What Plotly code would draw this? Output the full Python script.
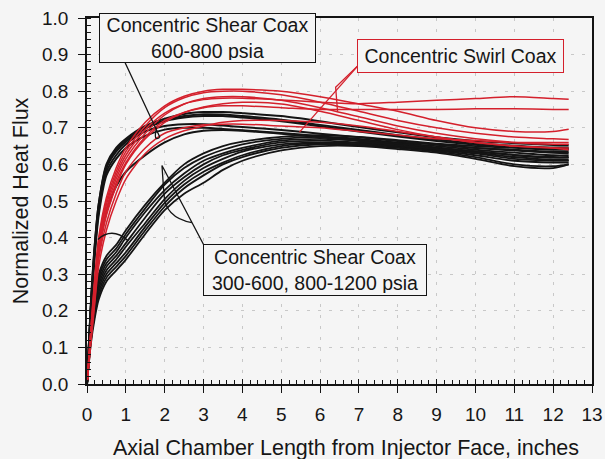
import plotly.graph_objects as go

# Axial stations (inches from injector face)
axial_in = [0, 0.1, 0.2, 0.3, 0.5, 0.75, 1, 1.5, 2, 2.5, 3, 3.5, 4, 5, 6, 7, 8, 9, 10, 11, 12, 12.4]

# Concentric shear coax, 600-800 psia (fast rise)
shear_mid_1 = [0, 0.22, 0.38, 0.49, 0.60, 0.645, 0.67, 0.705, 0.725, 0.738, 0.743, 0.743, 0.74, 0.732, 0.718, 0.702, 0.688, 0.674, 0.664, 0.658, 0.653, 0.652]
shear_mid_2 = [0, 0.21, 0.37, 0.48, 0.59, 0.635, 0.662, 0.698, 0.718, 0.728, 0.732, 0.732, 0.728, 0.718, 0.704, 0.69, 0.676, 0.664, 0.654, 0.648, 0.643, 0.642]
shear_mid_3 = [0, 0.21, 0.36, 0.47, 0.58, 0.625, 0.655, 0.69, 0.705, 0.71, 0.71, 0.706, 0.702, 0.694, 0.684, 0.674, 0.664, 0.654, 0.645, 0.638, 0.632, 0.631]
shear_mid_4 = [0, 0.20, 0.35, 0.46, 0.57, 0.615, 0.645, 0.678, 0.695, 0.70, 0.70, 0.697, 0.693, 0.686, 0.677, 0.667, 0.656, 0.646, 0.636, 0.626, 0.62, 0.62]
shear_mid_5 = [0, 0.15, 0.27, 0.36, 0.47, 0.54, 0.58, 0.625, 0.66, 0.682, 0.692, 0.694, 0.692, 0.684, 0.674, 0.664, 0.652, 0.642, 0.632, 0.62, 0.612, 0.612]
shear_mid_6 = [0, 0.22, 0.38, 0.49, 0.595, 0.64, 0.666, 0.70, 0.72, 0.732, 0.737, 0.736, 0.732, 0.722, 0.708, 0.694, 0.68, 0.668, 0.658, 0.651, 0.646, 0.646]

# Concentric shear coax, 300-600 and 800-1200 psia (slow rise)
shear_ext_1 = [0, 0.16, 0.25, 0.30, 0.35, 0.38, 0.42, 0.49, 0.55, 0.60, 0.63, 0.65, 0.662, 0.675, 0.68, 0.675, 0.666, 0.657, 0.65, 0.645, 0.64, 0.64]
shear_ext_2 = [0, 0.15, 0.24, 0.29, 0.34, 0.37, 0.41, 0.48, 0.545, 0.59, 0.62, 0.64, 0.655, 0.67, 0.675, 0.67, 0.66, 0.655, 0.645, 0.64, 0.635, 0.635]
shear_ext_3 = [0, 0.14, 0.23, 0.28, 0.33, 0.36, 0.40, 0.47, 0.53, 0.575, 0.61, 0.63, 0.645, 0.665, 0.67, 0.665, 0.658, 0.65, 0.64, 0.632, 0.625, 0.625]
shear_ext_4 = [0, 0.13, 0.22, 0.27, 0.32, 0.35, 0.385, 0.455, 0.52, 0.565, 0.60, 0.625, 0.64, 0.66, 0.665, 0.66, 0.655, 0.645, 0.635, 0.625, 0.618, 0.618]
shear_ext_5 = [0, 0.13, 0.21, 0.26, 0.31, 0.34, 0.375, 0.44, 0.505, 0.555, 0.59, 0.615, 0.635, 0.655, 0.66, 0.658, 0.65, 0.64, 0.63, 0.615, 0.61, 0.61]
shear_ext_6 = [0, 0.12, 0.20, 0.25, 0.30, 0.33, 0.36, 0.43, 0.495, 0.545, 0.58, 0.605, 0.625, 0.65, 0.658, 0.655, 0.648, 0.638, 0.625, 0.61, 0.605, 0.605]
shear_ext_7 = [0, 0.12, 0.19, 0.24, 0.29, 0.32, 0.35, 0.42, 0.485, 0.535, 0.57, 0.60, 0.62, 0.645, 0.655, 0.652, 0.645, 0.635, 0.62, 0.60, 0.595, 0.60]
shear_ext_8 = [0, 0.11, 0.18, 0.23, 0.28, 0.31, 0.34, 0.41, 0.475, 0.52, 0.55, 0.585, 0.61, 0.638, 0.65, 0.65, 0.642, 0.632, 0.615, 0.595, 0.59, 0.60]

# Concentric swirl coax
swirl_1 = [0, 0.14, 0.27, 0.38, 0.49, 0.57, 0.625, 0.695, 0.74, 0.765, 0.777, 0.781, 0.781, 0.776, 0.77, 0.766, 0.77, 0.775, 0.78, 0.785, 0.78, 0.778]
swirl_2 = [0, 0.13, 0.25, 0.36, 0.47, 0.55, 0.605, 0.675, 0.72, 0.742, 0.755, 0.76, 0.76, 0.755, 0.75, 0.75, 0.75, 0.75, 0.752, 0.752, 0.75, 0.75]
swirl_3 = [0, 0.15, 0.29, 0.40, 0.51, 0.59, 0.645, 0.715, 0.76, 0.786, 0.80, 0.805, 0.805, 0.80, 0.785, 0.765, 0.745, 0.72, 0.70, 0.69, 0.69, 0.696]
swirl_4 = [0, 0.15, 0.28, 0.39, 0.50, 0.58, 0.635, 0.705, 0.755, 0.782, 0.796, 0.80, 0.80, 0.79, 0.77, 0.745, 0.72, 0.70, 0.685, 0.675, 0.67, 0.668]
swirl_5 = [0, 0.14, 0.26, 0.37, 0.48, 0.56, 0.615, 0.685, 0.735, 0.765, 0.78, 0.785, 0.785, 0.775, 0.755, 0.73, 0.705, 0.685, 0.67, 0.66, 0.655, 0.655]
swirl_6 = [0, 0.11, 0.22, 0.32, 0.42, 0.50, 0.56, 0.63, 0.67, 0.692, 0.705, 0.715, 0.72, 0.72, 0.715, 0.705, 0.69, 0.675, 0.66, 0.65, 0.645, 0.645]
swirl_7 = [0, 0.13, 0.24, 0.35, 0.46, 0.54, 0.60, 0.67, 0.715, 0.742, 0.757, 0.766, 0.77, 0.765, 0.745, 0.72, 0.695, 0.675, 0.66, 0.65, 0.645, 0.64]
swirl_8 = [0, 0.12, 0.23, 0.34, 0.44, 0.52, 0.58, 0.645, 0.685, 0.70, 0.708, 0.71, 0.71, 0.705, 0.70, 0.69, 0.68, 0.67, 0.665, 0.66, 0.66, 0.66]

shear_mid = [shear_mid_1, shear_mid_2, shear_mid_3, shear_mid_4, shear_mid_5, shear_mid_6]
shear_ext = [shear_ext_1, shear_ext_2, shear_ext_3, shear_ext_4, shear_ext_5, shear_ext_6, shear_ext_7, shear_ext_8]
swirl = [swirl_1, swirl_2, swirl_3, swirl_4, swirl_5, swirl_6, swirl_7, swirl_8]

x_ticks = list(range(0, 14))
y_ticks = [round(0.1 * i, 1) for i in range(11)]

BLACK = "#141414"
RED = "#d4202c"
BG = "#f5f5f5"
TEXT = "#161616"
FONT = "Liberation Sans, Arial, sans-serif"

fig = go.Figure()

def add_curve(values, color, width):
    fig.add_trace(go.Scatter(
        x=axial_in, y=values, mode="lines",
        line=dict(color=color, width=width, shape="spline", smoothing=0.8),
        showlegend=False, hoverinfo="skip",
    ))

for s in shear_ext:
    add_curve(s, BLACK, 1.8)
for s in shear_mid:
    add_curve(s, BLACK, 2.0)
for s in swirl:
    add_curve(s, RED, 1.5)

axis_common = dict(
    showline=True, linecolor=BLACK, linewidth=1.5, mirror=True, automargin=False,
    showgrid=True, gridcolor="#c8c8c8", gridwidth=1, griddash="3px,8px",
    zeroline=False, ticks="outside", ticklen=7, tickwidth=1.3, tickcolor=BLACK,
    tickfont=dict(family=FONT, size=19, color=TEXT),
)

fig.update_layout(
    width=605, height=459,
    margin=dict(l=87, r=13, t=18, b=75),
    paper_bgcolor=BG, plot_bgcolor=BG,
    font=dict(family=FONT, color=TEXT),
    xaxis=dict(
        range=[0, 13], tickvals=x_ticks, ticktext=[str(v) for v in x_ticks],
        minor=dict(dtick=0.2, ticks="inside", ticklen=4, tickcolor=BLACK, showgrid=False),
        ticklabelstandoff=5,
        **axis_common,
    ),
    xaxis2=dict(
        range=[0, 13], overlaying="x", matches="x", tickvals=x_ticks,
        showticklabels=False, ticks="inside", ticklen=5, tickwidth=1.3, tickcolor=BLACK,
        showgrid=False, zeroline=False, showline=False, automargin=False,
    ),
    yaxis=dict(
        range=[0, 1.0], tickvals=y_ticks, ticktext=[f"{v:.1f}" for v in y_ticks],
        minor=dict(dtick=0.02, ticks="inside", ticklen=4, tickcolor=BLACK, showgrid=False),
        title=dict(text="Normalized Heat Flux",
                   font=dict(family=FONT, size=21.5, color=TEXT), standoff=8),
        ticklabelstandoff=6,
        **axis_common,
    ),
)

# x-axis title, placed slightly right of the plot centre
fig.add_annotation(text="Axial Chamber Length from Injector Face, inches",
                   xref="paper", yref="paper", x=0.513, y=0,
                   xanchor="center", yanchor="middle", yshift=-64,
                   showarrow=False, font=dict(family=FONT, size=21.5, color=TEXT))

# dummy trace to activate the secondary x axis for crossing major ticks
fig.add_trace(go.Scatter(x=[None], y=[None], xaxis="x2", showlegend=False, hoverinfo="skip"))

# Leader lines and brackets
leader = dict(xref="x", yref="y", line=dict(color=BLACK, width=1.3))
fig.add_shape(type="path", path="M 0.976 0.879 L 1.876 0.674 M 1.79 0.70 Q 1.70 0.66 1.876 0.674", **leader)
fig.add_shape(type="path",
              path="M 2.70 0.441 Q 2.00 0.455 1.98 0.52 L 1.93 0.597 L 3.00 0.381", **leader)
fig.add_shape(type="path", path="M 0.28 0.395 Q 0.65 0.43 1.05 0.392", **leader)
red_leader = dict(xref="x", yref="y", line=dict(color=RED, width=1.3))
fig.add_shape(type="path", path="M 6.96 0.868 L 5.47 0.688", **red_leader)
fig.add_shape(type="path", path="M 6.96 0.868 L 6.40 0.811 L 6.45 0.745", **red_leader)

# Group labels
label_font = dict(family=FONT, size=19.5, color=TEXT)
fig.add_annotation(x=3.10, y=0.945, xref="x", yref="y",
                   text="Concentric Shear Coax<br>600-800 psia",
                   showarrow=False, font=label_font,
                   align="center", bgcolor=BG, bordercolor=BLACK, borderwidth=1,
                   borderpad=2, width=211, height=44)
fig.add_annotation(x=9.62, y=0.896, xref="x", yref="y",
                   text="Concentric Swirl Coax",
                   showarrow=False, font=label_font,
                   align="center", bgcolor=BG, bordercolor=RED, borderwidth=1,
                   borderpad=2, width=201, height=28)
fig.add_annotation(x=5.88, y=0.312, xref="x", yref="y",
                   text="Concentric Shear Coax<br>300-600, 800-1200 psia",
                   showarrow=False, font=label_font,
                   align="center", bgcolor=BG, bordercolor=BLACK, borderwidth=1,
                   borderpad=2, width=218, height=46)

fig.write_html("out.html")
